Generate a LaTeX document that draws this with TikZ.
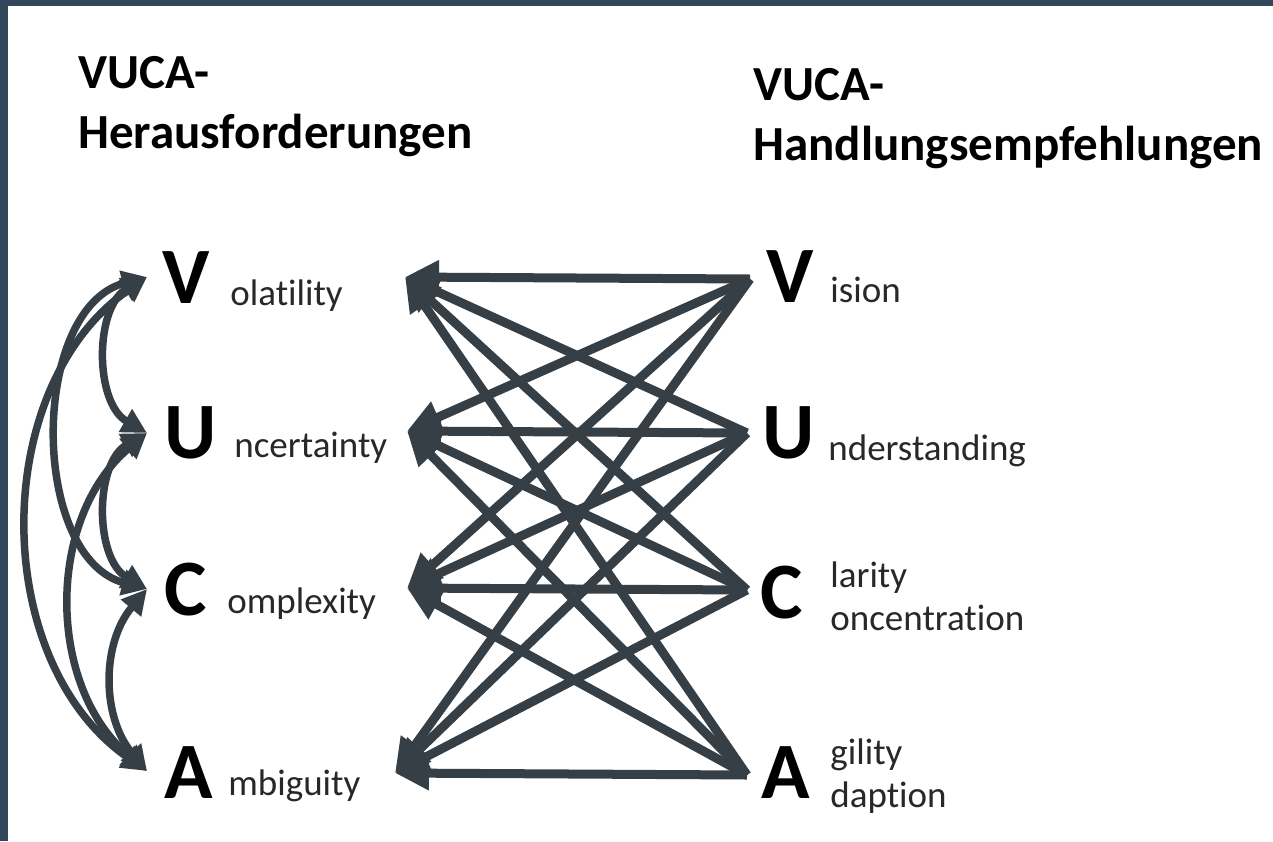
\documentclass[tikz,border=0pt]{standalone}
\usepackage{fontspec}
\setmainfont{Carlito}[Ligatures={NoCommon}]
\usetikzlibrary{arrows.meta}
\definecolor{framecol}{RGB}{50,70,92}
\definecolor{arrcol}{RGB}{55,63,70}
\definecolor{txtcol}{RGB}{40,40,40}
\begin{document}
\begin{tikzpicture}[x=0.5pt,y=-0.5pt,
  bigletter/.style={font=\bfseries\fontsize{40}{40}\selectfont, inner sep=0pt, anchor=base west, text=black},
  lbl/.style={font=\fontsize{18.5}{21.5}\selectfont, inner sep=0pt, anchor=base west, text=txtcol, align=left},
  hdr/.style={font=\bfseries\fontsize{24.5}{30}\selectfont, inner sep=0pt, anchor=base west, text=black},
  xlink/.style={draw=arrcol, line width=4.5pt, -{Triangle[length=17pt,width=16pt]}},
  bidir/.style={draw=arrcol, line width=3.75pt, {Triangle[length=12.5pt,width=12.5pt]}-{Triangle[length=12.5pt,width=12.5pt]}}
]
\useasboundingbox (0,0) rectangle (1273,841);
\fill[framecol] (0,0) rectangle (1273,841);
\fill[white] (8,6) rectangle (1273,841);

% headings
\node[hdr] (h1a) at (78,88) {VUCA-};
\node[hdr] (h1b) at (78,148) {Herausforderungen};
\node[hdr] (h2a) at (753,100) {VUCA-};
\node[hdr] (h2b) at (753,160) {Handlungsempfehlungen};

% left column
\node[bigletter] (LV) at (162,303) {V};
\node[lbl] (LVt) at (230,305) {olatility};
\node[bigletter] (LU) at (164,458) {U};
\node[lbl] (LUt) at (234,457) {ncertainty};
\node[bigletter] (LC) at (164,615) {C};
\node[lbl] (LCt) at (227,613) {omplexity};
\node[bigletter] (LA) at (164,798) {A};
\node[lbl] (LAt) at (228,795) {mbiguity};

% right column
\node[bigletter] (RV) at (766,302) {V};
\node[lbl] (RVt) at (830,302) {ision};
\node[bigletter] (RU) at (762,458) {U};
\node[lbl] (RUt) at (828,460) {nderstanding};
\node[bigletter] (RC) at (760,618) {C};
\node[lbl] (RCt) at (830,630) {larity\\oncentration};
\node[bigletter] (RA) at (761,798) {A};
\node[lbl] (RAt) at (830,807) {gility\\daption};

% connector points
\coordinate (rV) at (750,279);
\coordinate (rU) at (747,433);
\coordinate (rC) at (747,590);
\coordinate (rA) at (747,775);
\coordinate (lV) at (405,277);
\coordinate (lU) at (407,431);
\coordinate (lC) at (407,588);
\coordinate (lA) at (395,773);

\foreach \s in {rV,rU,rC,rA}{
  \foreach \t in {lV,lU,lC,lA}{
    \draw[xlink] (\s) -- (\t);
  }
}

% left arcs
\coordinate (aV) at (147,277);
\coordinate (aU) at (147,433);
\coordinate (aC) at (147,589);
\coordinate (aA) at (147,771);

\draw[bidir] (aV) to[bend right=60] (aU);
\draw[bidir] (aU) to[bend right=60] (aC);
\draw[bidir] (aC) to[bend right=40] (aA);
\draw[bidir] (aV) to[bend right=75] (aC);
\draw[bidir] (aU) to[bend right=50] (aA);
\draw[bidir] (aV) to[bend right=55] (aA);
\end{tikzpicture}
\end{document}
